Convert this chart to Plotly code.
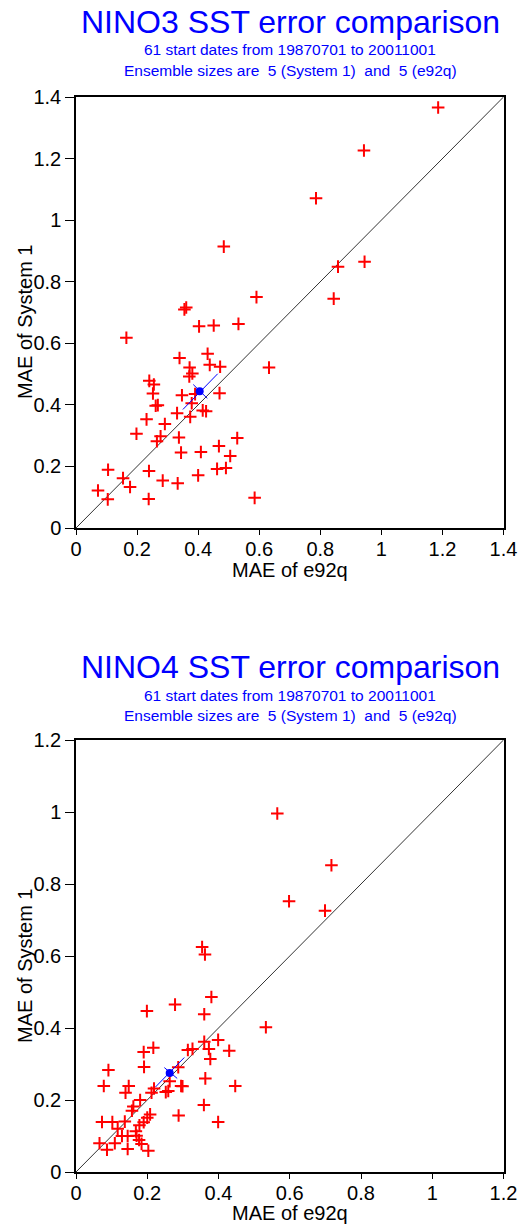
import plotly.graph_objects as go

# ---- NINO3 (top panel) ----
nino3_e92q = [0.484, 0.591, 0.355, 0.361, 0.403, 0.451, 0.532, 0.165, 0.632, 0.339,
              0.431, 0.438, 0.472, 0.372, 0.381, 0.371, 0.240, 0.255, 0.252, 0.470,
              0.347, 0.390, 0.261, 0.268, 0.379, 0.415, 0.426, 0.331, 0.231, 0.291,
              0.374, 0.198, 0.277, 0.265, 0.337, 0.468, 0.528, 0.344, 0.409, 0.505,
              0.105, 0.239, 0.462, 0.491, 0.154, 0.177, 0.284, 0.333, 0.400, 0.072,
              0.104, 0.238, 0.585, 1.186, 0.943, 0.786, 0.858, 0.945, 0.844]
nino3_sys1 = [0.914, 0.750, 0.710, 0.716, 0.655, 0.658, 0.663, 0.618, 0.521, 0.552,
              0.566, 0.530, 0.524, 0.521, 0.502, 0.492, 0.478, 0.466, 0.437, 0.438,
              0.431, 0.435, 0.397, 0.399, 0.405, 0.382, 0.379, 0.373, 0.353, 0.338,
              0.361, 0.306, 0.298, 0.282, 0.294, 0.266, 0.292, 0.245, 0.247, 0.234,
              0.189, 0.185, 0.192, 0.195, 0.162, 0.133, 0.154, 0.145, 0.171, 0.122,
              0.093, 0.094, 0.098, 1.366, 1.226, 1.071, 0.849, 0.865, 0.745]
nino3_mean = [0.405, 0.444]
nino3_long = [[0.350, 0.464], [0.385, 0.501]]
nino3_short = [[0.384, 0.430], [0.466, 0.421]]
nino3_ticks = [0, 0.2, 0.4, 0.6, 0.8, 1, 1.2, 1.4]

# ---- NINO4 (bottom panel) ----
nino4_e92q = [0.380, 0.278, 0.199, 0.360, 0.533, 0.399, 0.360, 0.373, 0.430, 0.217,
              0.190, 0.314, 0.327, 0.377, 0.191, 0.091, 0.287, 0.263, 0.363, 0.078,
              0.148, 0.295, 0.299, 0.447, 0.139, 0.219, 0.212, 0.252, 0.259, 0.180,
              0.161, 0.157, 0.359, 0.208, 0.288, 0.200, 0.073, 0.102, 0.137, 0.190,
              0.399, 0.178, 0.117, 0.168, 0.129, 0.145, 0.170, 0.177, 0.066, 0.109,
              0.184, 0.087, 0.145, 0.203, 0.565, 0.717, 0.598, 0.699, 0.354, 0.362]
nino4_sys1 = [0.486, 0.465, 0.447, 0.438, 0.402, 0.367, 0.362, 0.342, 0.337, 0.345,
              0.333, 0.339, 0.342, 0.314, 0.292, 0.283, 0.291, 0.252, 0.260, 0.239,
              0.239, 0.239, 0.238, 0.239, 0.220, 0.232, 0.220, 0.222, 0.225, 0.200,
              0.182, 0.170, 0.186, 0.160, 0.157, 0.151, 0.139, 0.139, 0.140, 0.138,
              0.139, 0.130, 0.120, 0.113, 0.100, 0.100, 0.101, 0.089, 0.080, 0.080,
              0.078, 0.062, 0.064, 0.059, 0.996, 0.852, 0.752, 0.726, 0.625, 0.604]
nino4_mean = [0.263, 0.275]
nino4_long = [[0.223, 0.304], [0.236, 0.318]]
nino4_short = [[0.248, 0.284], [0.290, 0.260]]
nino4_ticks = [0, 0.2, 0.4, 0.6, 0.8, 1, 1.2]

FONT = "Liberation Sans, Arial, sans-serif"
W, H = 525, 1227

fig = go.Figure()

panels = [
    ("x", "y", nino3_e92q, nino3_sys1, nino3_mean, nino3_long, nino3_short, nino3_ticks),
    ("x2", "y2", nino4_e92q, nino4_sys1, nino4_mean, nino4_long, nino4_short, nino4_ticks),
]
for xa, ya, xs, ys, mean, lng, sht, ticks in panels:
    top = ticks[-1]
    # 1:1 diagonal
    fig.add_trace(go.Scatter(x=[0, top], y=[0, top], mode="lines", xaxis=xa, yaxis=ya,
                             line=dict(color="#333333", width=1), hoverinfo="skip"))
    fig.add_trace(go.Scatter(x=xs, y=ys, mode="markers", xaxis=xa, yaxis=ya,
                             marker=dict(symbol="cross-thin", size=9,
                                         line=dict(color="red", width=2))))
    fig.add_trace(go.Scatter(x=lng[0], y=lng[1], mode="lines", xaxis=xa, yaxis=ya,
                             line=dict(color="blue", width=1)))
    fig.add_trace(go.Scatter(x=sht[0], y=sht[1], mode="lines", xaxis=xa, yaxis=ya,
                             line=dict(color="blue", width=1)))
    fig.add_trace(go.Scatter(x=[mean[0]], y=[mean[1]], mode="markers", xaxis=xa, yaxis=ya,
                             marker=dict(symbol="circle", size=8, color="blue")))


# window pixel -> paper fraction
def px_y(py):
    return 1 - py / H


def px_x(px):
    return px / W


axis_style = dict(showgrid=False, zeroline=False, showline=True, linecolor="black",
                  linewidth=1.5, mirror=True, ticks="outside", tickcolor="black",
                  automargin=False, ticklabeloverflow="allow",
                  tickfont=dict(family=FONT, size=20, color="black"))

xdom = [px_x(76), px_x(503.5)]
fig.update_layout(
    width=W, height=H, autosize=False,
    margin=dict(l=0, r=0, t=0, b=0),
    paper_bgcolor="white", plot_bgcolor="white",
    showlegend=False,
    xaxis=dict(domain=xdom, range=[0, 1.4], tickvals=nino3_ticks, ticklen=5,
               ticklabelstandoff=-3, anchor="y", **axis_style),
    yaxis=dict(domain=[px_y(528), px_y(97)], range=[0, 1.4], tickvals=nino3_ticks,
               ticklen=9, anchor="x", **axis_style),
    xaxis2=dict(domain=xdom, range=[0, 1.2], tickvals=nino4_ticks, ticklen=5,
                ticklabelstandoff=-3, anchor="y2", **axis_style),
    yaxis2=dict(domain=[px_y(1172), px_y(740)], range=[0, 1.2], tickvals=nino4_ticks,
                ticklen=9, anchor="x2", **axis_style),
)

ann = []
cx = px_x(290)
for name, t_y, s1_y, s2_y, xt_y, yt_y in [("NINO3", 22, 50, 70, 570, 322),
                                          ("NINO4", 667, 695, 715, 1213, 966)]:
    ann.append(dict(text=f"{name} SST error comparison", x=cx, y=px_y(t_y),
                    font=dict(family=FONT, size=32, color="blue")))
    ann.append(dict(text="61 start dates from 19870701 to 20011001", x=cx, y=px_y(s1_y),
                    font=dict(family=FONT, size=15.5, color="blue")))
    ann.append(dict(text="Ensemble sizes are  5 (System 1)  and  5 (e92q)", x=cx,
                    y=px_y(s2_y), font=dict(family=FONT, size=15.5, color="blue")))
    ann.append(dict(text="MAE of e92q", x=cx, y=px_y(xt_y),
                    font=dict(family=FONT, size=20, color="black")))
    ann.append(dict(text="MAE of System 1", x=px_x(25), y=px_y(yt_y), textangle=-90,
                    font=dict(family=FONT, size=20, color="black")))
for a in ann:
    a.update(xref="paper", yref="paper", showarrow=False, xanchor="center",
             yanchor="middle")
fig.update_layout(annotations=ann)

# drop the default page margin so the figure fills the window exactly
fig.write_html("out.html", config={"displayModeBar": False},
               post_script="document.body.style.margin='0px';")
